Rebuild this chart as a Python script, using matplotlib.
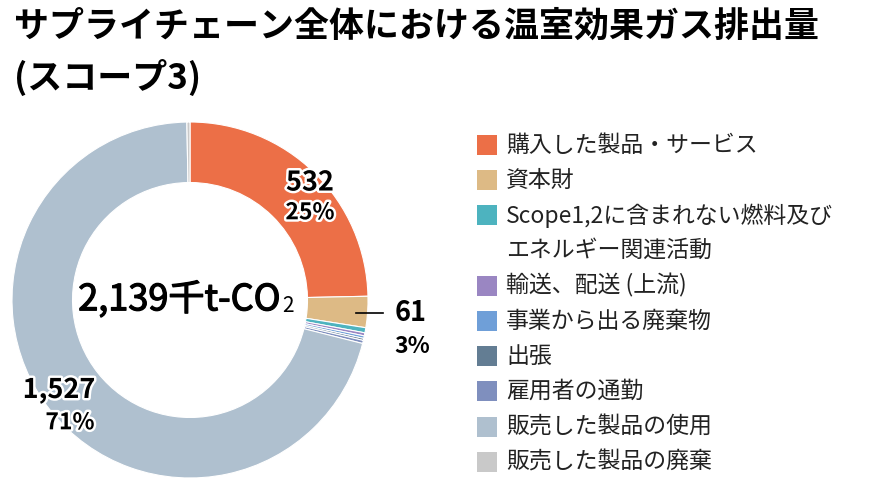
import matplotlib
matplotlib.use("Agg")
import matplotlib.pyplot as plt
import matplotlib.patheffects as pe
from matplotlib.patches import Rectangle

plt.rcParams['font.family'] = ['Noto Sans CJK JP', 'DejaVu Sans']

categories = [
    "購入した製品・サービス",
    "資本財",
    "Scope1,2に含まれない燃料及び\nエネルギー関連活動",
    "輸送、配送 (上流)",
    "事業から出る廃棄物",
    "出張",
    "雇用者の通勤",
    "販売した製品の使用",
    "販売した製品の廃棄",
]
values = [532, 61, 10, 6, 5, 4, 6, 1527, 6]
colors = ["#EC6F47", "#DDBA85", "#4DB3BF", "#9A86C2", "#6F9FD8",
          "#637D93", "#7F8FBE", "#AFC0CF", "#C9C9C9"]
total = 2139
title = "サプライチェーン全体における温室効果ガス排出量\n(スコープ3)"

W, H = 880, 493
fig = plt.figure(figsize=(W / 100, H / 100), dpi=100)

fig.text(14 / W, 1 - 9 / H, title, fontsize=25.2, fontweight='bold',
         ha='left', va='top', linespacing=1.5)

# donut
cx, cy, R = 190, 300, 178
ax = fig.add_axes([(cx - R) / W, (H - cy - R) / H, 2 * R / W, 2 * R / H])
wedges, _ = ax.pie(values, colors=colors, startangle=90, counterclock=False,
                   radius=1, wedgeprops=dict(width=0.34, edgecolor='white', linewidth=0.8))
ax.set_xlim(-1, 1)
ax.set_ylim(-1, 1)
ax.set_aspect('equal')
ax.axis('off')

stroke = [pe.withStroke(linewidth=3.5, foreground='white')]

def pct(v):
    return f"{round(v / total * 100)}%"

# labels
ax.text(0.674, 0.66, f"{values[0]:,}", fontsize=19.5, fontweight='bold',
        ha='center', va='center', path_effects=stroke)
ax.text(0.674, 0.49, pct(values[0]), fontsize=16.5, fontweight='bold',
        ha='center', va='center', path_effects=stroke)

ax.plot([0.93, 1.085], [-0.073, -0.073], color='black', lw=1.2, clip_on=False)
ax.text(1.24, -0.073, f"{values[1]:,}", fontsize=19.5, fontweight='bold',
        ha='center', va='center', clip_on=False)
ax.text(1.25, -0.26, pct(values[1]), fontsize=16.5, fontweight='bold',
        ha='center', va='center', clip_on=False)

ax.text(-0.736, -0.506, f"{values[7]:,}", fontsize=19.5, fontweight='bold',
        ha='center', va='center', path_effects=stroke, clip_on=False)
ax.text(-0.674, -0.69, pct(values[7]), fontsize=16.5, fontweight='bold',
        ha='center', va='center', path_effects=stroke, clip_on=False)

# center total (slightly thickened regular weight)
thick = [pe.withStroke(linewidth=0.9, foreground='black')]
main = ax.text(-0.06, 0, f"{total:,}千t-CO", fontsize=26,
               ha='center', va='center', path_effects=thick)
ax.annotate("2", xy=(1.01, 0.04), xycoords=main, fontsize=15,
            ha='left', va='bottom')

# legend
sq_x, txt_x, y0, step, sq = 477, 506, 145, 35.2, 20
line = 0
for label, color in zip(categories, colors):
    yc = y0 + line * step
    fig.patches.append(Rectangle((sq_x / W, (H - yc - sq / 2) / H), sq / W, sq / H,
                                 transform=fig.transFigure, facecolor=color,
                                 edgecolor='none'))
    for part in label.split('\n'):
        yl = y0 + line * step
        fig.text(txt_x / W, 1 - yl / H, part, fontsize=16.5, ha='left', va='center',
                 color='#222222')
        line += 1

fig.savefig("out.png", dpi=100)
